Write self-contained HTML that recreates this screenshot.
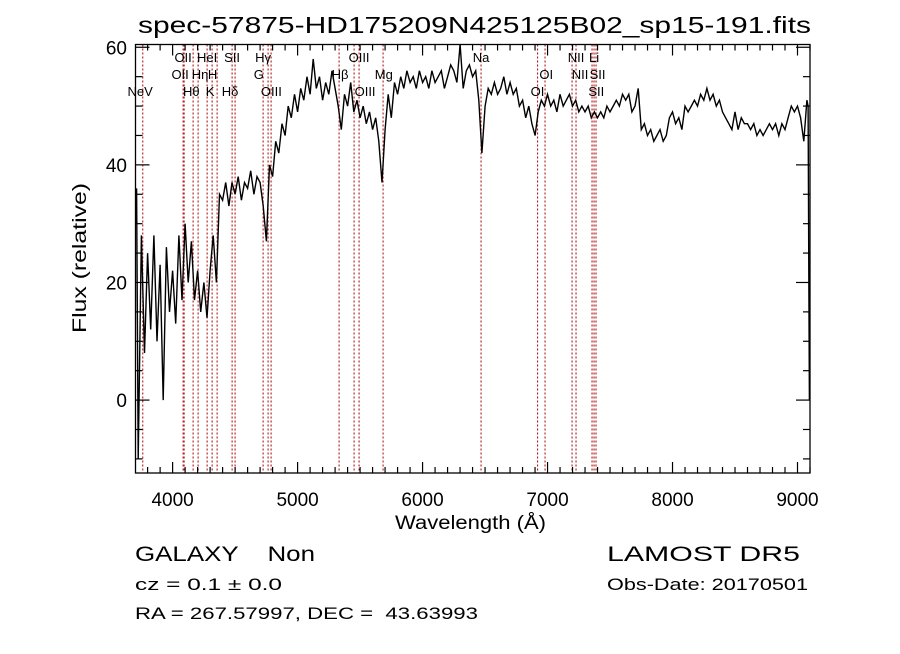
<!DOCTYPE html>
<html><head><meta charset="utf-8"><style>
html,body{margin:0;padding:0;background:#fff;}
svg text{font-family:"Liberation Sans",sans-serif;fill:#000;}
</style></head><body>
<svg id="chart" width="900" height="649" viewBox="0 0 900 649" xmlns="http://www.w3.org/2000/svg">
<rect width="900" height="649" fill="#fff"/>
<text x="138" y="33" font-size="23" textLength="673" lengthAdjust="spacingAndGlyphs">spec-57875-HD175209N425125B02_sp15-191.fits</text>
<g id="lines"></g>
<g id="labels"></g>
<path id="spec" fill="none" stroke="#000" stroke-width="1.4"/>
<g id="axes"></g>
<text x="395" y="529" font-size="19" textLength="151" lengthAdjust="spacingAndGlyphs">Wavelength (Å)</text>
<text x="0" y="0" font-size="19" text-anchor="middle" textLength="150" lengthAdjust="spacingAndGlyphs" transform="translate(86,258) rotate(-90)">Flux (relative)</text>
<text x="135" y="561" font-size="21" textLength="180" lengthAdjust="spacingAndGlyphs">GALAXY&#160;&#160;&#160;&#160;Non</text>
<text x="135" y="590" font-size="17" textLength="147" lengthAdjust="spacingAndGlyphs">cz = 0.1 ± 0.0</text>
<text x="135" y="619" font-size="17" textLength="343" lengthAdjust="spacingAndGlyphs">RA = 267.57997, DEC = &#160;43.63993</text>
<text x="607" y="561" font-size="21" textLength="193" lengthAdjust="spacingAndGlyphs">LAMOST DR5</text>
<text x="607" y="590" font-size="17" textLength="201" lengthAdjust="spacingAndGlyphs">Obs-Date: 20170501</text>
</svg>
<script>
const xTicks = [4000,5000,6000,7000,8000,9000];
const yTicks = [0,20,40,60];
const waveStart = 3725, waveStep = 25;
const flux = [-10,28,8,25,12,28,10,23,0,26,15,22,13,28,17,30,20,27,17,22,15,20,14,22,28,20,35,34,37,33,37,35,38,34,37,36,39,35,38,37,33,27,40,38,44,42,47,45,50,48,52,49,53,51,55,52,58,53,55,51,54,52,56,53,50,46,52,50,54,49,51,48,50,47,49,46,48,44,37,46,52,48,54,52,55,53,56,54,55,53,56,54,55,53,56,54,55,56,53,55,57,56,54,61,53,56,57,55,56,51,42,50,53,52,54,52,53,55,52,54,52,53,50,51,48,50,47,45,49,51,50,52,50,51,49,52,50,51,52,50,51,49,50,49,50,48,49,48,49,48,50,49,50,51,50,52,51,52,49,50,53,46,47,45,46,44,45,46,44,45,48,49,47,48,46,50,49,50,51,50,52,51,53,51,52,50,51,49,48,47,46,49,46,48,47,47,46,47,45,46,45,46,47,46,47,45,47,46,48,50,49,50,48,44,51];
const headWaves = [3705,3712];
const headFlux = [30,36];
const tailWaves = [9085,9090,9095];
const tailFlux = [50,22,0];
const lineWaves = [3761,4084,4092,4164,4204,4276,4316,4356,4476,4500,4724,4764,4788,5332,5452,5492,5684,6468,6920,6980,7196,7228,7356,7372,7388];
const labelText = ["OII","HeI","SII","Hγ","OIII","Na","NII","Li","OII","Hη","H","G","Hβ","Mg","OI","NII","SII","NeV","Hθ","K","Hδ","OIII","OIII","OI","SII"];
const labelWave = [4084,4276,4476,4724,5492,6468,7228,7372,4060,4220,4320,4690,5340,5690,6990,7260,7400,3740,4150,4300,4460,4790,5540,6920,7390];
const labelRow = [0,0,0,0,0,0,0,0,1,1,1,1,1,1,1,1,1,2,2,2,2,2,2,2,2];

const L=135.5,R=810,T=44.5,B=473, wMin=3703, wMax=9100, fTop=60.47, fBot=-12.4;
const xs = w => L+(w-wMin)/(wMax-wMin)*(R-L);
const ys = f => T+(fTop-f)/(fTop-fBot)*(B-T);
const NS="http://www.w3.org/2000/svg";
function mk(tag,parent){const e=document.createElementNS(NS,tag);parent.appendChild(e);return e;}

const lg=document.getElementById('lines');
lineWaves.forEach(w=>{
  const l=mk('line',lg);
  
  
  l.setAttribute('x1',xs(w));l.setAttribute('x2',xs(w));
  l.setAttribute('y1',T);l.setAttribute('y2',B);
  l.setAttribute('stroke','#b01818');l.setAttribute('stroke-width','1.1');
  l.setAttribute('stroke-dasharray','2,2');
});
const lab=document.getElementById('labels');
labelText.forEach((t,i)=>{
  const e=mk('text',lab);
  
  
  e.setAttribute('x',xs(labelWave[i]));
  e.setAttribute('y',62+labelRow[i]*17);
  e.setAttribute('font-size','13');
  e.setAttribute('text-anchor','middle');
  e.textContent=t;
});

let pts=[];
headWaves.forEach((w,i)=>pts.push([w,headFlux[i]]));
flux.forEach((f,i)=>pts.push([waveStart+i*waveStep,f]));
tailWaves.forEach((w,i)=>pts.push([w,tailFlux[i]]));
document.getElementById('spec').setAttribute('d',pts.map((p,i)=>(i?'L':'M')+xs(p[0]).toFixed(1)+','+Math.max(T,Math.min(B,ys(p[1]))).toFixed(1)).join(''));

const ax=document.getElementById('axes');
const fr=mk('rect',ax);


fr.setAttribute('x',L);fr.setAttribute('y',T);fr.setAttribute('width',R-L);fr.setAttribute('height',B-T);
fr.setAttribute('fill','none');fr.setAttribute('stroke','#000');fr.setAttribute('stroke-width','1.3');
function tick(x1,y1,x2,y2){const t=mk('line',ax);
  
  
  t.setAttribute('x1',x1);t.setAttribute('y1',y1);t.setAttribute('x2',x2);t.setAttribute('y2',y2);t.setAttribute('stroke','#000');t.setAttribute('stroke-width','1.2');}
for(let w=3800;w<=9100;w+=100){const big=w%1000===0,len=big?11:6,x=xs(w);tick(x,B,x,B-len);tick(x,T,x,T+len);}
for(let f=-10;f<=60;f+=5){const big=f%20===0,len=big?14:7,y=ys(f);tick(L,y,L+len,y);tick(R,y,R-len,y);}
xTicks.forEach(w=>{const t=mk('text',ax);
  
  
  t.setAttribute('x',xs(w));t.setAttribute('y',506);t.setAttribute('font-size','19');t.setAttribute('text-anchor','middle');t.textContent=w;});
yTicks.forEach(f=>{const t=mk('text',ax);
  
  
  t.setAttribute('x',127);t.setAttribute('y',ys(f)+7);t.setAttribute('font-size','19');t.setAttribute('text-anchor','end');t.textContent=f;});
</script>
</body></html>
